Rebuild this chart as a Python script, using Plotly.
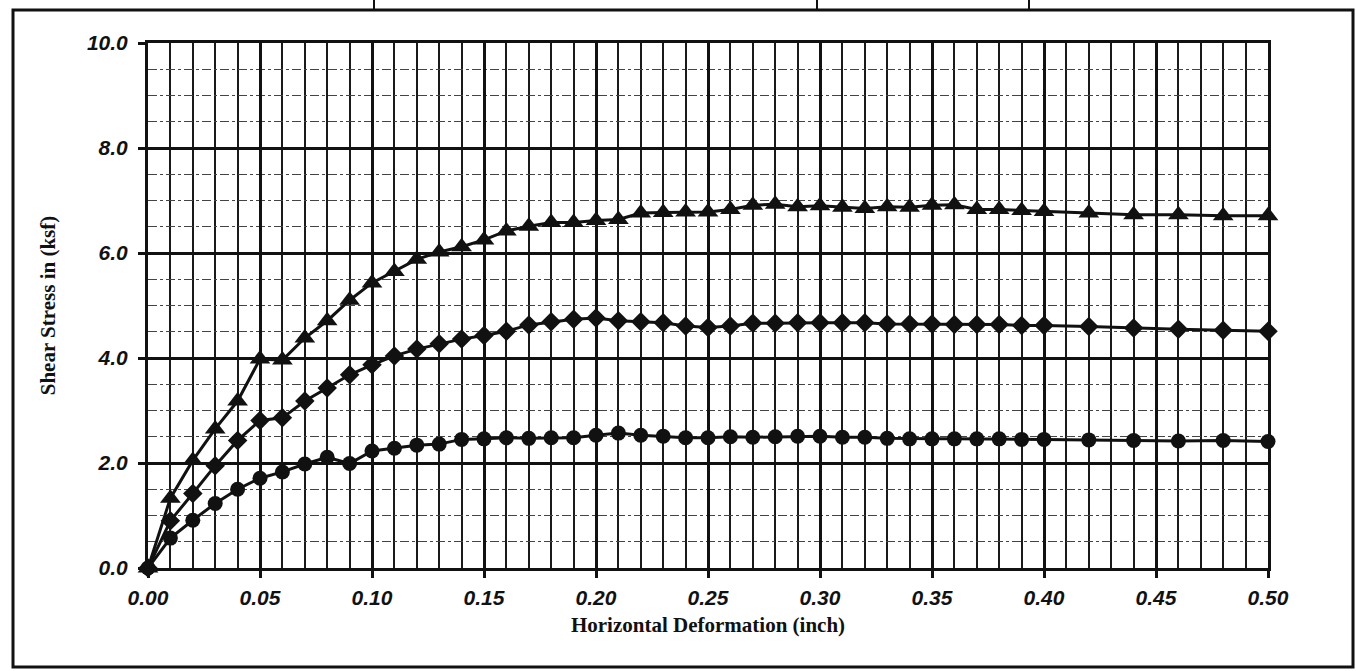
import plotly.graph_objects as go

# Horizontal deformation readings (inch)
deformation = [0.00, 0.01, 0.02, 0.03, 0.04, 0.05, 0.06, 0.07, 0.08, 0.09,
               0.10, 0.11, 0.12, 0.13, 0.14, 0.15, 0.16, 0.17, 0.18, 0.19,
               0.20, 0.21, 0.22, 0.23, 0.24, 0.25, 0.26, 0.27, 0.28, 0.29,
               0.30, 0.31, 0.32, 0.33, 0.34, 0.35, 0.36, 0.37, 0.38, 0.39,
               0.40, 0.42, 0.44, 0.46, 0.48, 0.50]

# Shear stress (ksf) for the three normal loads
stress_high = [0.00, 1.33, 2.05, 2.65, 3.18, 3.98, 3.96, 4.38, 4.71, 5.10,
               5.43, 5.65, 5.88, 6.02, 6.12, 6.25, 6.42, 6.51, 6.58, 6.58,
               6.62, 6.64, 6.76, 6.77, 6.78, 6.78, 6.83, 6.91, 6.93, 6.88,
               6.90, 6.87, 6.85, 6.88, 6.87, 6.91, 6.92, 6.83, 6.83, 6.81,
               6.79, 6.76, 6.73, 6.73, 6.71, 6.71]

stress_mid = [0.00, 0.90, 1.42, 1.95, 2.43, 2.81, 2.86, 3.18, 3.43, 3.68,
              3.87, 4.04, 4.17, 4.27, 4.36, 4.43, 4.51, 4.63, 4.69, 4.74,
              4.76, 4.71, 4.69, 4.67, 4.61, 4.58, 4.61, 4.66, 4.66, 4.67,
              4.67, 4.67, 4.67, 4.65, 4.65, 4.65, 4.64, 4.64, 4.64, 4.62,
              4.62, 4.60, 4.57, 4.55, 4.53, 4.51]

stress_low = [0.00, 0.57, 0.91, 1.23, 1.50, 1.71, 1.83, 1.98, 2.11, 1.99,
              2.23, 2.28, 2.34, 2.36, 2.45, 2.46, 2.48, 2.47, 2.48, 2.48,
              2.53, 2.57, 2.53, 2.51, 2.48, 2.48, 2.50, 2.49, 2.50, 2.51,
              2.51, 2.49, 2.49, 2.47, 2.46, 2.46, 2.46, 2.46, 2.46, 2.45,
              2.45, 2.44, 2.43, 2.42, 2.43, 2.41]

y_ticks = [0, 2, 4, 6, 8, 10]
y_tick_labels = ["0.0", "2.0", "4.0", "6.0", "8.0", "10.0"]
x_ticks = [0.00, 0.05, 0.10, 0.15, 0.20, 0.25, 0.30, 0.35, 0.40, 0.45, 0.50]
x_tick_labels = ["0.00", "0.05", "0.10", "0.15", "0.20", "0.25",
                 "0.30", "0.35", "0.40", "0.45", "0.50"]

W, H = 1356, 671
L, R, T, B = 148, 88, 43, 103
plot_w, plot_h = W - L - R, H - T - B


def px_x(x):
    return (x - L) / plot_w


def px_y(y):
    return (H - B - y) / plot_h


fig = go.Figure()

series = [
    (stress_high, "triangle-up", 18),
    (stress_mid, "diamond", 15),
    (stress_low, "circle", 15),
]
for values, symbol, size in series:
    fig.add_trace(go.Scatter(
        x=deformation, y=values, mode="lines+markers",
        line=dict(color="#111111", width=3),
        marker=dict(symbol=symbol, size=size, color="#111111",
                    line=dict(width=0)),
        showlegend=False, cliponaxis=False,
    ))

tick_font = dict(family="Liberation Sans, Arial", size=21, color="#111111",
                 weight="bold", style="italic")
title_font = dict(family="Liberation Serif, Times New Roman", size=21,
                  color="#111111", weight="bold")

fig.update_xaxes(
    range=[0, 0.5], tickvals=x_ticks, ticktext=x_tick_labels,
    tickfont=tick_font, ticks="outside", ticklen=7, tickwidth=2.5,
    tickcolor="#111111", ticklabelstandoff=2,
    showgrid=True, gridcolor="#111111", gridwidth=2.5,
    minor=dict(dtick=0.01, showgrid=True, gridcolor="#1a1a1a",
               gridwidth=1.5, ticks=""),
    showline=True, linecolor="#111111", linewidth=3, mirror=True,
    zeroline=False,
    title=dict(text="Horizontal Deformation (inch)", font=title_font,
               standoff=10),
)
fig.update_yaxes(
    range=[0, 10], tickvals=y_ticks, ticktext=y_tick_labels,
    tickfont=tick_font, ticks="outside", ticklen=7, tickwidth=2.5,
    tickcolor="#111111", ticklabelstandoff=6,
    showgrid=True, gridcolor="#111111", gridwidth=2.5,
    minor=dict(dtick=0.5, showgrid=True, gridcolor="#444444",
               gridwidth=1.2, griddash="dashdot", ticks=""),
    showline=True, linecolor="#111111", linewidth=3, mirror=True,
    zeroline=False,
    title=dict(text="Shear Stress in (ksf)", font=title_font, standoff=26),
)

# Outer page frame around the chart
fig.add_shape(type="rect", xref="paper", yref="paper",
              x0=px_x(13), x1=px_x(1353), y0=px_y(667), y1=px_y(10),
              line=dict(color="#111111", width=3), layer="below")
# Fragments of the table rules above the frame
for xp in [374, 817, 1029]:
    fig.add_shape(type="line", xref="paper", yref="paper",
                  x0=px_x(xp), x1=px_x(xp), y0=px_y(0), y1=px_y(10),
                  line=dict(color="#111111", width=2))

fig.update_layout(
    width=W, height=H,
    margin=dict(l=L, r=R, t=T, b=B),
    paper_bgcolor="white", plot_bgcolor="white",
)

fig.write_html("out.html")
